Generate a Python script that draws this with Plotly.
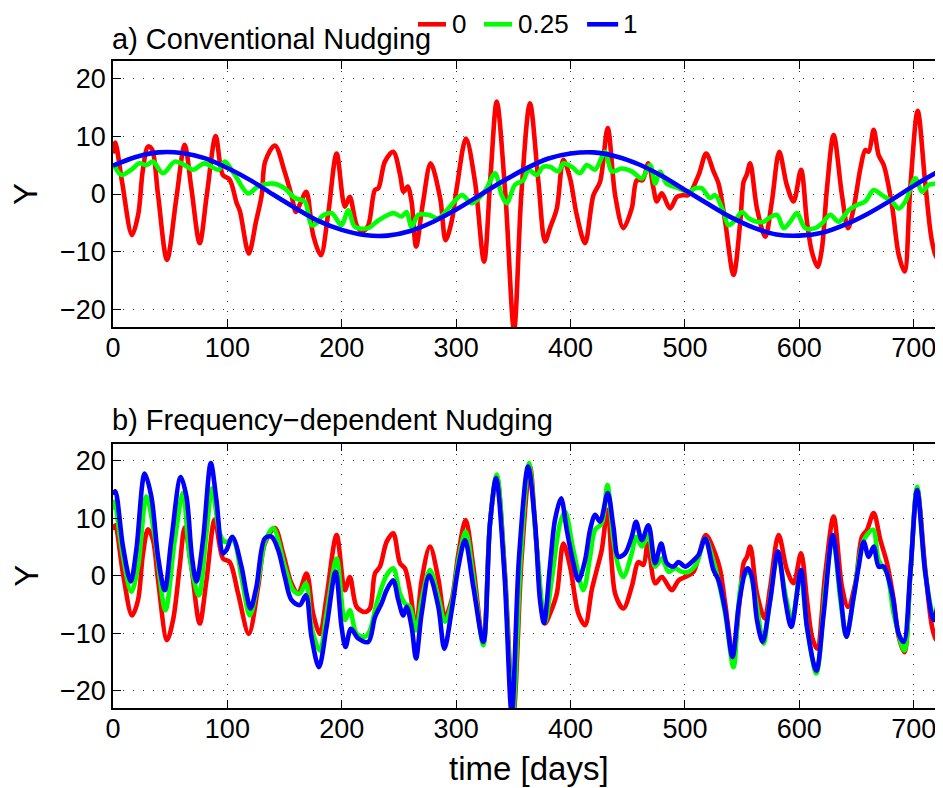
import plotly.graph_objects as go

# ---------------- data ----------------
series_names = ["0", "0.25", "1"]
series_colors = ["#ff0000", "#00ff00", "#0000ff"]

# panel a) Conventional Nudging
t_a_red = [0, 2, 8, 16.6, 22, 26, 30.6, 34, 39.4, 47.2, 55.4, 62.7, 68.5, 75.8, 82, 89.8, 96, 102, 108, 111,
           118.7, 125, 130, 133, 141.5, 150, 156, 160, 164, 169, 175, 181.7, 188, 195.5, 202.7, 207, 213, 218,
           223, 229, 232, 237.7, 245, 251, 254, 257.6, 261, 265, 271, 277.7, 286, 290.8, 296, 300.5, 308.6,
           316.5, 324.4, 330, 335.5, 343, 350.6, 357, 364.5, 371.9, 377.7, 382, 388, 393.7, 399.6, 405.4,
           412.7, 420, 425.8, 432.5, 439, 446.2, 453.5, 458, 463, 468, 472.5, 475.4, 479.8, 487, 493, 498.7,
           503, 512, 518.6, 525, 529.4, 535.2, 542.5, 548.4, 551.3, 554, 557, 563, 570.2, 576, 582.5, 589,
           595, 601.5, 606.7, 611, 616, 619.8, 624.2, 630, 637.3, 642.6, 647.5, 653.4, 657.7, 660.7, 665,
           669.4, 673.8, 681, 687, 692, 697, 703.5, 710, 716, 720.5, 726.5, 730]
y_a_red = [7.0, 8.9, 2.0, -7.1, -3.6, 4.0, 8.2, 7.8, -0.2, -11.4, -0.7, 8.5, 1.0, -8.5, -0.2, 10.0, 3.3, 2.5, -1.5, -3.0,
           -10.3, -4.8, -0.2, 5.6, 8.4, 3.9, -0.2, -3.1, -1.5, 0.4, -7.1, -10.6, -3.6, 7.0, -2.2, -0.5, -5.4, -6.5,
           -5.5, 0.7, 1.0, 5.6, 7.3, 3.3, 0.4, 1.3, -1.3, -9.1, -1.5, 5.3, -0.7, -8.0, -4.8, 1.0, 9.6,
           2.1, -11.7, 3.0, 16.0, 0.0, -23.5, 0.0, 15.7, 2.1, -8.2, -5.9, -2.5, 5.9, 2.7, -3.6,
           -8.5, -0.2, 2.1, 11.4, -0.2, -5.9, -2.5, 2.4, 2.4, 5.3, 1.0, -1.3, 0.1, -2.5, -0.5, -0.2,
           -0.2, 3.3, 7.0, 3.9, 1.8, -4.8, -14.0, -4.8, 2.1, 3.3, 5.3, -2.5, -7.4, -1.3, 7.3, 1.6,
           -1.3, 4.2, -4.8, -10.0, -12.6, -9.4, 1.0, 10.2, -0.2, -5.9, -2.5, 4.4, 7.6, 7.3, 11.1,
           6.7, 5.0, -1.9, -10.6, -13.4, 1.0, 14.4, 2.1, -8.2, -11.1, -6.0, -2.5]

t_a_green = [0, 7.3, 16, 23, 29, 35, 43.7, 54, 62.7, 70, 80, 92, 97.7, 106.5, 118, 127, 140, 150, 159, 167.7,
             173.5, 179.4, 182.3, 191, 199.8, 205.7, 211.5, 223, 230.5, 237.7, 245, 252.3, 256.7, 261, 267,
             275.7, 284.4, 293.2, 305, 313.6, 322.3, 326.7, 334, 339.8, 344.2, 351.5, 358.8, 363.2, 370.4,
             376, 382, 389.4, 393.7, 401, 408.3, 414.2, 421.4, 430.2, 436, 444.8, 453.5, 462.3, 469.6, 474,
             478.3, 484, 494.4, 503, 509, 514.8, 522, 526.4, 533.7, 538.1, 544, 549.8, 555.7, 563, 568.8,
             573.2, 580.5, 586.3, 592, 598, 605.2, 614, 619.8, 627.1, 634.4, 643.2, 650.5, 657.7, 665,
             672.3, 681, 687, 692.7, 701.5, 707.3, 713.2, 720.5, 726.5, 730]
y_a_green = [5.3, 3.3, 4.2, 5.3, 5.0, 5.6, 3.6, 5.6, 5.0, 4.2, 5.3, 4.2, 5.6, 3.3, 0.1, 1.3, 1.8, 1.0, -0.7, -1.3,
             -5.4, -4.8, -3.9, -3.3, -5.4, -2.8, -5.7, -5.9, -4.8, -3.9, -3.3, -3.9, -3.1, -5.7, -3.6,
             -3.6, -4.2, -2.5, -0.2, -1.6, -0.2, 1.0, 3.6, -0.2, -1.6, 1.6, 2.4, 4.2, 3.3,
             4.7, 4.7, 3.9, 5.3, 4.7, 3.6, 5.0, 4.2, 7.3, 3.9, 4.4, 3.9, 2.7, 5.0, 1.8,
             3.9, 1.8, 1.0, 0.4, 1.0, 1.0, -0.7, -0.2, -3.1, -5.4, -4.5, -3.1, -4.2, -4.8, -4.8,
             -4.2, -3.6, -5.9, -4.8, -3.3, -5.9, -5.9, -5.1, -3.6, -4.8, -2.8, -1.9, -1.3, 0.7,
             -0.2, -1.3, -2.5, -1.3, 2.7, 0.4, 1.6, 1.8, 2.1, 1.8]

t_a_blue = [0, 20, 40, 60, 80, 100, 120, 140, 160, 180, 200, 220, 240, 260, 280, 300, 320, 340, 360, 380,
            400, 420, 440, 460, 480, 500, 520, 540, 560, 580, 600, 620, 640, 660, 680, 700, 720, 730]
y_a_blue = [4.9, 6.4, 7.2, 7.1, 6.2, 4.5, 2.4, -0.1, -2.5, -4.7, -6.2, -7.1, -7.2, -6.4, -4.8, -2.7, -0.3, 2.1,
            4.3, 6.1, 7.0, 7.2, 6.5, 5.1, 3.1, 0.7, -1.7, -4.0, -5.8, -7.0, -7.2, -6.7, -5.3, -3.4, -1.1, 1.4,
            3.7, 4.7]

# panel b) Frequency-dependent Nudging
t_b_red = [0, 2, 8.7, 16.6, 21.9, 26, 30.6, 35, 39.4, 47.2, 52.5, 58.3, 62.7, 68.5, 75.8, 81.7, 89, 96.2, 102,
           109.4, 118.7, 126.9, 132.7, 141.5, 148.7, 156, 161.9, 169.2, 175, 180.9, 186.7, 195.5, 202.7,
           207.1, 213, 220.2, 224.6, 229, 233.4, 239.2, 245, 250.9, 255.2, 259.6, 264.9, 269.8, 277.1,
           284.4, 290.2, 296.1, 302, 308.3, 315, 323.8, 329.6, 335.5, 342.7, 350, 357.3, 364.6, 370,
           377.7, 382, 388, 393.7, 399.6, 406.9, 412.7, 418.5, 422.9, 427.3, 432.5, 439, 446.2, 453.5,
           459.4, 463.7, 467.5, 474, 479.8, 488.5, 494.4, 500.2, 507.5, 511.9, 518.3, 526.4, 530.8,
           535.2, 542, 548.4, 551.3, 554.2, 557.1, 563, 569.7, 574.6, 581.9, 589.2, 595, 601.5, 606.7,
           611.1, 615.5, 622.7, 630, 637.3, 642.6, 649, 654.8, 659.2, 665, 670.9, 676.7, 682.5, 686.9,
           691.9, 697.1, 703, 710.2, 716.1, 719.9, 726.5, 730]
y_b_red = [8.0, 8.8, 0.4, -6.9, -4.2, 3.5, 8.1, 6.2, -0.8, -11.2, -7.7, 1.6, 8.4, 1.6, -8.3, -0.8, 9.8, 3.0, 2.4,
           -3.1, -10.1, -1.9, 5.6, 8.3, 3.9, -1.3, -3.1, 0.4, -6.6, -10.1, -3.7, 7.1, -2.5,
           -0.2, -5.4, -6.3, -5.7, 0.4, 1.6, 5.9, 7.4, 2.2, 1.3, -2.5, -9.2, -0.8, 5.1,
           -0.5, -7.2, -4.2, 3.9, 9.7, 1.6, -11.8, 9.1, 17.3, 0.4, -24.0, 3.3, 19.0, 6.0,
           -8.3, -6.6, -3.1, 5.6, 1.6, -6.6, -8.6, -2.5, 1.0, 4.5, 11.5, -3.1, -5.7, -1.9,
           2.4, 1.9, 5.6, -1.3, -0.2, -2.5, -0.8, -0.2, 0.7, 3.3, 7.1, 3.9, 1.0,
           -4.8, -13.8, -3.1, 2.2, 3.3, 5.1, -3.1, -7.4, -1.9, 7.1, 1.0, -1.3, 3.9, -4.2,
           -10.6, -12.7, 0.4, 10.3, -1.9, -5.4, -1.3, 6.8, 8.0, 10.9, 6.2, 2.2, -4.2, -10.6,
           -13.3, 0.4, 15.2, 1.0, -8.9, -11.2, -1.3, 3.0]

t_b_green = [0, 1.5, 7.3, 16, 21.9, 29.2, 36.5, 45.8, 54, 61.2, 67, 75, 81.7, 86.6, 93.3, 97.7, 105, 112.3,
             119.6, 127, 133, 140, 150.2, 157.5, 163.3, 168.6, 173.5, 180.9, 186.7, 195.5, 202.7, 207.1,
             213, 220.2, 224.6, 230.5, 239.2, 245, 250.9, 255.2, 259.6, 264.9, 269.8, 277.1, 284.4, 290.2,
             296.1, 302, 308.3, 315, 323.8, 329.6, 335.5, 342.5, 349.5, 356.5, 363.7, 370, 377.7, 383.5,
             390.8, 395.2, 402.5, 411.2, 417.1, 421.4, 427.3, 432.2, 437.5, 441.9, 446.2, 453.5, 457.3,
             462.3, 468.1, 474, 479.8, 485.6, 491.4, 497.3, 503.1, 510.4, 517.7, 525, 535.2, 542.5,
             549.8, 555.7, 561.5, 568.8, 573.2, 581.3, 587.7, 593.6, 600.9, 606.7, 614.9, 622.7, 629.2,
             635.9, 641.1, 647.5, 656.3, 664.5, 669.4, 676.7, 682.5, 691.9, 697.1, 703, 710.2, 718.4, 726.5, 730]
y_b_green = [11.5, 12.9, 5.1, -2.8, 1.6, 13.8, 6.8, -6.0, 6.2, 14.4, 3.3, -3.4, 7.4, 15.2, 7.4, 5.9, 6.2, -0.2,
             -6.9, -0.8, 6.0, 8.3, 1.6, -2.5, -3.1, -1.3, -8.9, -13.0, -6.6, 3.0, -7.7, -6.0,
             -10.1, -10.6, -9.5, -4.8, 0.1, 1.3, -3.1, -4.8, -5.4, -9.5, -4.2, 1.0, -3.7, -8.0,
             -4.8, 2.7, 7.7, -0.2, -12.1, 9.1, 17.6, 0.4, -24.0, 3.3, 19.6, 6.0, -8.0, -0.8,
             9.1, 11.2, 4.5, -2.5, 3.3, 8.0, 9.1, 15.8, 6.2, 1.6, -0.2, 3.9, 6.8,
             5.1, 7.1, 1.6, 3.0, 0.7, 1.3, 0.7, 0.7, 2.2, 6.5, 2.5, -6.6, -15.9,
             -0.8, 0.7, -3.7, -11.8, -6.0, 3.9, -3.1, -7.7, 0.4, -8.9, -17.0, -2.5, 6.8,
             -4.2, -10.6, -3.7, 6.2, 8.0, 2.7, 0.4, -6.6, -13.0, 0.4, 15.5, 0.4, -7.7, 2.7, 6.0]

t_b_blue = [0, 2, 8.7, 15.5, 20.4, 27.7, 33.5, 39.4, 45.2, 51, 59.2, 64.2, 69, 72.9, 78.7, 85.5, 90.4, 96.2,
            99.2, 104.4, 112.3, 116.7, 120.2, 125.4, 132.7, 138.5, 144.4, 150.2, 156, 163.3, 168.6, 173.5,
            180, 186.7, 194.6, 199.8, 203.3, 208, 214.4, 223.2, 229, 234.8, 239.2, 245, 249.4, 253.8,
            256.7, 261.1, 264.9, 269.8, 276.5, 284.4, 289.7, 296.1, 302, 307.7, 315, 323.8, 329.6, 334.9,
            342.2, 348.6, 355, 362.9, 369, 373.3, 376.8, 382, 386.4, 391.7, 396.7, 402.5, 406.9, 412.7,
            417.1, 421.5, 425.8, 432.5, 437.5, 441.9, 447.7, 453.5, 457.3, 462.3, 468.1, 474, 479.2,
            484.2, 490, 494.4, 500.2, 506, 511.9, 517.7, 525, 529.4, 535.2, 541.6, 546.9, 552.7, 555,
            558.6, 563, 567.9, 574.6, 581.3, 587.7, 593, 601.5, 606.7, 614.9, 621.3, 629.2, 635.9, 641.1,
            647.5, 651.9, 656.3, 660.7, 665, 669.4, 673.8, 681.1, 686.9, 691.3, 697, 703, 710.2, 717.5,
            726.5, 730]
y_b_blue = [14.1, 14.7, 5.1, -1.0, 4.5, 17.8, 13.8, 3.3, -2.5, 6.2, 17.2, 13.8, 3.3, -1.0, 6.2, 19.6, 13.2, 3.9,
            4.5, 6.8, 1.6, -3.1, -5.7, -1.9, 6.5, 6.8, 4.5, -0.2, -4.2, -5.1, -3.4, -10.6,
            -15.9, -8.9, 0.7, -8.9, -12.4, -9.2, -10.9, -11.5, -7.2, -4.8, -2.5, -0.8, -4.2, -6.9,
            -5.4, -8.9, -14.4, -6.6, 0.1, -5.4, -12.7, -6.0, 1.6, 6.2, -1.9, -11.5, 9.1, 17.0,
            0.4, -24.0, 3.3, 19.0, 9.1, -4.2, -8.2, 1.6, 9.7, 13.5, 8.0, 2.2, -0.8, 2.7,
            8.0, 10.6, 9.4, 14.4, 8.5, 3.3, 3.9, 6.8, 9.4, 6.2, 8.8, 2.2, 5.6,
            2.2, 1.6, 2.4, 1.6, 2.4, 3.6, 6.5, 1.0, -0.8, -6.0, -14.1, -5.4, 0.7, 1.3,
            -0.2, -7.7, -11.5, -4.2, 4.2, -4.2, -8.9, 1.0, -8.9, -16.5, -6.6, 7.1, -3.1, -10.6,
            -3.7, 1.6, 5.9, 3.3, 5.1, 1.6, 1.6, -3.1, -10.1, -11.5, 0.4, 14.9, 0.4, -7.7,
            3.3, 7.0]

x_ticks = [0, 100, 200, 300, 400, 500, 600, 700]
y_ticks = [-20, -10, 0, 10, 20]
y_tick_text = ["\u221220", "\u221210", "0", "10", "20"]
x_range = [0, 730]
y_range = [-23, 23]

# ---------------- figure ----------------
# The page body has an 8 px margin, so page coordinates = figure coordinates + 8.
OFF = 8
W, H = 943, 788
ML = 113.3 - OFF
PLOT_RIGHT = 947.6 - OFF
MR = W - PLOT_RIGHT
MT = 60.7 - OFF
MB = H - (707.7 - OFF)
PW, PH = W - ML - MR, H - MT - MB
FONT = "Liberation Sans, Arial, Helvetica, sans-serif"


def px_x(p):  # page pixel -> paper x
    return (p - OFF - ML) / PW


def px_y(p):  # page pixel -> paper y
    return (H - MB - (p - OFF)) / PH


fig = go.Figure()

panels = [
    ("x", "y", [(t_a_red, y_a_red), (t_a_green, y_a_green), (t_a_blue, y_a_blue)]),
    ("x2", "y2", [(t_b_red, y_b_red), (t_b_green, y_b_green), (t_b_blue, y_b_blue)]),
]
for xa, ya, data in panels:
    for (tt, yy), nm, col in zip(data, series_names, series_colors):
        fig.add_trace(go.Scatter(x=tt, y=yy, mode="lines", name=nm, xaxis=xa, yaxis=ya,
                                 line=dict(color=col, width=4.6, shape="spline", smoothing=0.9),
                                 showlegend=False, hoverinfo="skip"))

axis_common = dict(showline=True, linecolor="black", linewidth=1.5, ticks="inside", ticklen=8,
                   tickcolor="black", tickwidth=1, showgrid=True, gridcolor="#333333", gridwidth=1,
                   griddash="1px,9px", zeroline=False, automargin=False,
                   tickfont=dict(family=FONT, size=27, color="black"))

top_dom = [px_y(326.7), 1.0]
bot_dom = [0.0, px_y(443.3)]

fig.update_layout(
    width=W, height=H, margin=dict(l=ML, r=MR, t=MT, b=MB, autoexpand=False),
    paper_bgcolor="white", plot_bgcolor="white", showlegend=False,
    xaxis=dict(axis_common, domain=[0, 1], anchor="y", range=x_range, tickvals=x_ticks, mirror="ticks",
               ticklabelstandoff=-4),
    yaxis=dict(axis_common, domain=top_dom, anchor="x", range=y_range, tickvals=y_ticks,
               ticktext=y_tick_text, mirror="ticks", ticklabelstandoff=0),
    xaxis2=dict(axis_common, domain=[0, 1], anchor="y2", range=x_range, tickvals=x_ticks, mirror="ticks",
                ticklabelstandoff=-4),
    yaxis2=dict(axis_common, domain=bot_dom, anchor="x2", range=y_range, tickvals=y_ticks,
                ticktext=y_tick_text, mirror="ticks", ticklabelstandoff=0),
)

ann = []
ann.append(dict(text="a) Conventional Nudging", x=px_x(110), y=px_y(39), xref="paper", yref="paper",
                xanchor="left", yanchor="middle", showarrow=False, font=dict(family=FONT, size=29, color="black")))
ann.append(dict(text="b) Frequency\u2212dependent Nudging", x=px_x(110), y=px_y(420), xref="paper", yref="paper",
                xanchor="left", yanchor="middle", showarrow=False, font=dict(family=FONT, size=29, color="black")))
for yc in (194, 575.7):
    ann.append(dict(text="Y", x=px_x(26), y=px_y(yc), xref="paper", yref="paper", textangle=-90,
                    xanchor="center", yanchor="middle", showarrow=False,
                    font=dict(family=FONT, size=33, color="black")))
ann.append(dict(text="time [days]", x=px_x(529), y=px_y(768), xref="paper", yref="paper",
                xanchor="center", yanchor="middle", showarrow=False, font=dict(family=FONT, size=33, color="black")))

# manual legend (page pixel positions)
leg_items = [(418, 446, 451), (484, 512, 517), (587, 618, 622)]
shapes = []
for (x0, x1, xt), nm, col in zip(leg_items, series_names, series_colors):
    shapes.append(dict(type="line", xref="paper", yref="paper", x0=px_x(x0), x1=px_x(x1),
                       y0=px_y(24), y1=px_y(24), line=dict(color=col, width=4.6)))
    ann.append(dict(text=nm, x=px_x(xt), y=px_y(24), xref="paper", yref="paper", xanchor="left",
                    yanchor="middle", showarrow=False, borderpad=0,
                    font=dict(family=FONT, size=26, color="black")))

fig.update_layout(annotations=ann, shapes=shapes)

fig.write_html("out.html")
